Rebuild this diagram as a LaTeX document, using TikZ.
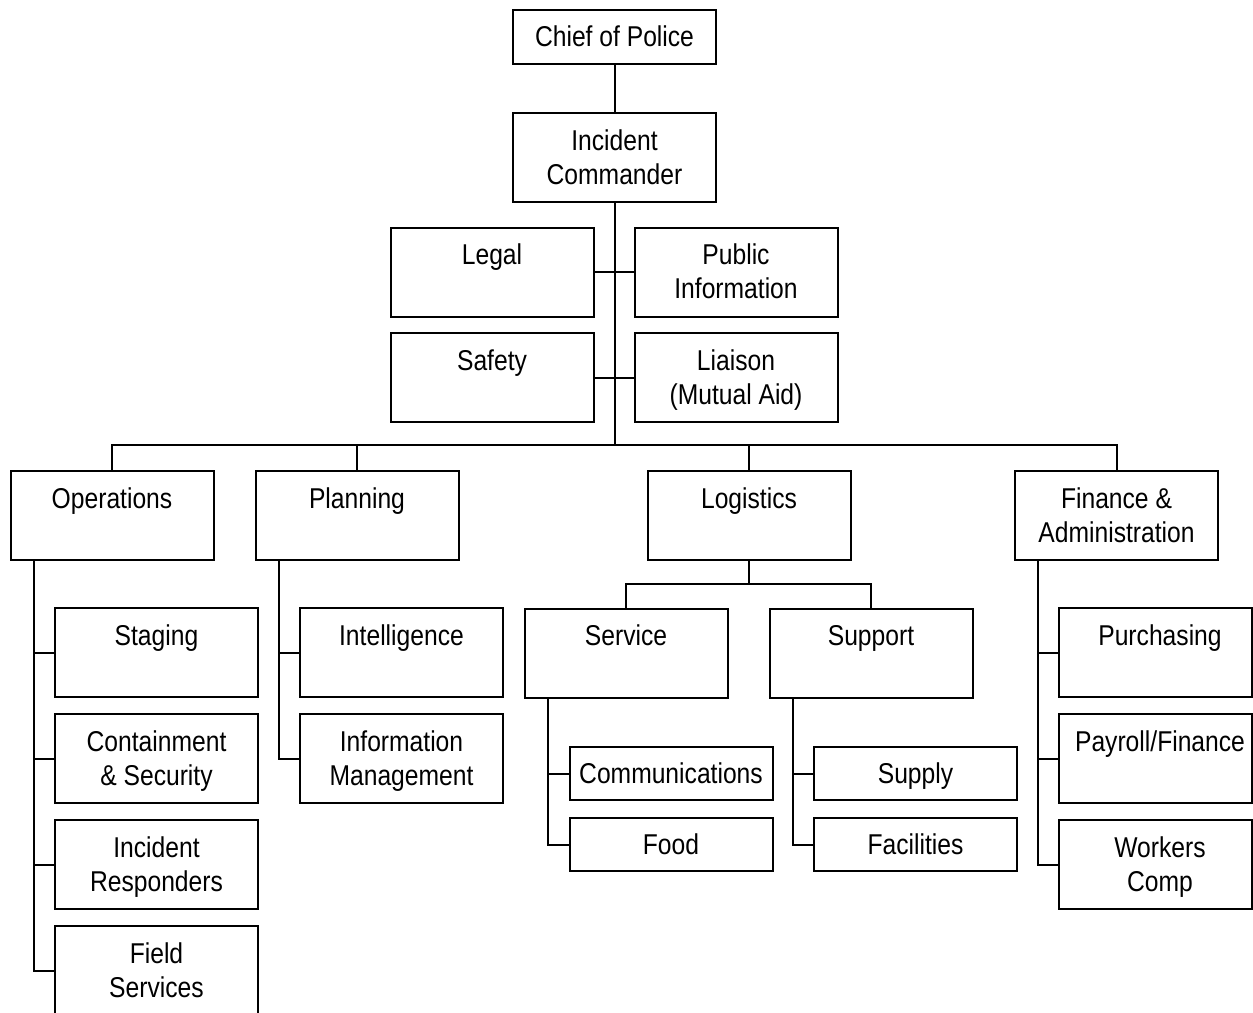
\documentclass[tikz,border=0pt]{standalone}
\usepackage{fontspec}
\setmainfont[FakeStretch=0.86]{Liberation Sans}
\newcommand\boxfont{\fontsize{21.5}{25.5}\selectfont}
\newcommand\tstrut{\rule[-7.65pt]{0pt}{30pt}}
\newcommand\twol[2]{\tstrut#1\\\strut#2}
\newcommand\onel[1]{\tstrut#1}
\newcommand\rsh{\hspace*{6.75pt}}
\begin{document}
\begin{tikzpicture}[x=0.75pt,y=-0.75pt,
  orgbox/.style={draw, line width=1.5pt, minimum width=152.25pt, minimum height=66.75pt,
    inner sep=0pt, align=center, font=\boxfont},
  smallbox/.style={orgbox, minimum height=40pt},
  narrowbox/.style={orgbox, minimum width=144.75pt},
  conn/.style={line width=1.5pt}]
\useasboundingbox (0,0) rectangle (1253,1013);
% top
\node[smallbox] (chief) at (614.5,37) {\onel{Chief of Police}};
\node[orgbox] (ic) at (614.5,157.5) {\twol{Incident}{Commander}};
\node[orgbox] (legal) at (492,272) {\twol{Legal}{}};
\node[orgbox] (pubinfo) at (736,272) {\twol{Public}{Information}};
\node[orgbox] (safety) at (492,377.5) {\twol{Safety}{}};
\node[orgbox] (liaison) at (736,377.5) {\twol{Liaison}{(Mutual Aid)}};
% sections
\node[orgbox] (ops) at (112,515.5) {\twol{Operations}{}};
\node[orgbox] (plan) at (357,515.5) {\twol{Planning}{}};
\node[orgbox] (log) at (749,515.5) {\twol{Logistics}{}};
\node[orgbox] (fin) at (1116.5,515.5) {\twol{Finance \&}{Administration}};
% operations
\node[orgbox] (staging) at (156.5,652.5) {\twol{Staging}{}};
\node[orgbox] (contain) at (156.5,758.5) {\twol{Containment}{\& Security}};
\node[orgbox] (incresp) at (156.5,864.5) {\twol{Incident}{Responders}};
\node[orgbox] (field) at (156.5,970.5) {\twol{Field}{Services}};
% planning
\node[orgbox] (intel) at (401.5,652.5) {\twol{Intelligence}{}};
\node[orgbox] (infomgmt) at (401.5,758.5) {\twol{Information}{Management}};
% logistics
\node[orgbox] (service) at (626,653) {\twol{Service}{}};
\node[orgbox] (support) at (871,653) {\twol{Support}{}};
\node[smallbox] (comms) at (671,773.5) {\onel{Communications}};
\node[smallbox] (food) at (671,844.5) {\onel{Food}};
\node[smallbox] (supply) at (915.5,773.5) {\onel{Supply}};
\node[smallbox] (facil) at (915.5,844.5) {\onel{Facilities}};
% finance
\node[narrowbox] (purch) at (1155.5,652.5) {\twol{\rsh Purchasing}{}};
\node[narrowbox] (payroll) at (1155.5,758.5) {\twol{\rsh Payroll/Finance}{}};
\node[narrowbox] (workers) at (1155.5,864.5) {\twol{\rsh Workers}{\rsh Comp}};
% coordinates
\coordinate (bus) at (614.5,445);
\coordinate (logbus) at (749,583.5);
\coordinate (opsstem) at ([xshift=18pt]ops.south west);
\coordinate (planstem) at ([xshift=18pt]plan.south west);
\coordinate (finstem) at ([xshift=18pt]fin.south west);
\coordinate (servstem) at ([xshift=18.5pt]service.south west);
\coordinate (suppstem) at ([xshift=18.5pt]support.south west);
% connectors
\draw[conn] (chief.south) -- (ic.north);
\draw[conn] (ic.south) -- (bus);
\draw[conn] (legal.east) -- (pubinfo.west);
\draw[conn] (safety.east) -- (liaison.west);
\draw[conn] (ops.north) |- (bus) -| (fin.north);
\draw[conn] (plan.north) -- (plan.north |- bus);
\draw[conn] (log.north) -- (log.north |- bus);
\foreach \c in {staging,contain,incresp,field} \draw[conn] (\c.west) -| (opsstem);
\foreach \c in {intel,infomgmt} \draw[conn] (\c.west) -| (planstem);
\foreach \c in {purch,payroll,workers} \draw[conn] (\c.west) -| (finstem);
\draw[conn] (log.south) -- (logbus);
\draw[conn] (service.north) |- (logbus) -| (support.north);
\foreach \c in {comms,food} \draw[conn] (\c.west) -| (servstem);
\foreach \c in {supply,facil} \draw[conn] (\c.west) -| (suppstem);
\end{tikzpicture}
\end{document}
